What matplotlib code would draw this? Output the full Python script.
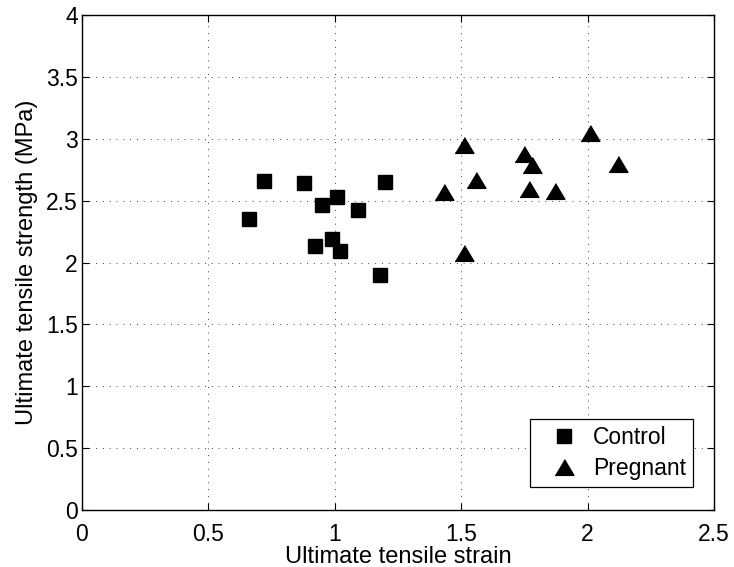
import matplotlib
matplotlib.use('Agg')
import matplotlib.pyplot as plt

# data
control_strain = [0.66, 0.72, 0.88, 0.92, 0.95, 0.99, 1.01, 1.02, 1.09, 1.18, 1.20]
control_strength = [2.35, 2.66, 2.645, 2.135, 2.465, 2.19, 2.53, 2.09, 2.425, 1.90, 2.65]
pregnant_strain = [1.43, 1.51, 1.51, 1.56, 1.75, 1.77, 1.78, 1.87, 2.01, 2.12]
pregnant_strength = [2.57, 2.95, 2.08, 2.665, 2.88, 2.595, 2.785, 2.58, 3.045, 2.795]

x_ticks = [0, 0.5, 1, 1.5, 2, 2.5]
x_ticklabels = ['0', '0.5', '1', '1.5', '2', '2.5']
y_ticks = [0, 0.5, 1, 1.5, 2, 2.5, 3, 3.5, 4]
y_ticklabels = ['0', '0.5', '1', '1.5', '2', '2.5', '3', '3.5', '4']

plt.rcParams['font.family'] = ['Liberation Sans', 'DejaVu Sans']
plt.rcParams['font.size'] = 16.5

fig = plt.figure(figsize=(7.34, 5.67), dpi=100)
ax = fig.add_axes([82/734, 57/567, 632/734, 495/567])

tri = [(-1.19, -1), (1.19, -1), (0, 1)]
ax.plot(control_strain, control_strength, 's', color='black', ms=9.5,
        mec='black', label='Control', zorder=3)
ax.plot(pregnant_strain, pregnant_strength, marker=tri, ls='none', color='black',
        ms=13.5, mec='black', label='Pregnant', zorder=3)

ax.set_xlim(0, 2.5)
ax.set_ylim(0, 4)
ax.set_xticks(x_ticks)
ax.set_yticks(y_ticks)
ax.set_xticklabels(x_ticklabels)
ax.set_yticklabels(y_ticklabels)
ax.grid(True, ls=(0, (1, 6)), color='0.25', lw=0.7)
ax.tick_params(direction='in', length=5, width=0.8, top=True, right=True)
ax.tick_params(axis='x', pad=9.5)
ax.tick_params(axis='y', pad=3)
for s in ax.spines.values():
    s.set_linewidth(1.0)

ax.set_xlabel('Ultimate tensile strain', fontsize=17, labelpad=0)
ax.set_ylabel('Ultimate tensile strength (MPa)', fontsize=17, labelpad=6)

leg = ax.legend(loc='lower right', bbox_to_anchor=(693/734, (567-487)/567),
                bbox_transform=fig.transFigure, fancybox=False, framealpha=1,
                edgecolor='black', borderpad=0.3, handletextpad=0.05,
                labelspacing=0.35, borderaxespad=0, handlelength=2.4)
leg.get_frame().set_linewidth(0.9)

fig.savefig('out.png', dpi=100)
